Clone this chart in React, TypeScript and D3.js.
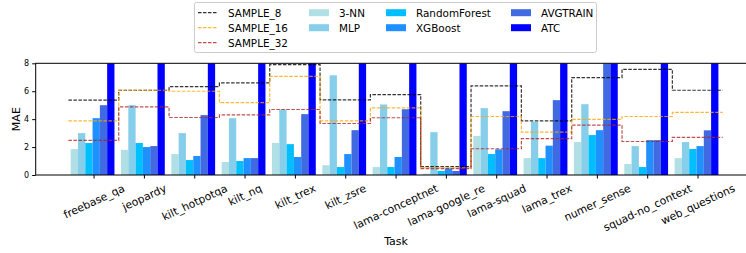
import { useEffect, useRef } from "react";
import * as d3 from "d3";

const categories = [
  "freebase_qa",
  "jeopardy",
  "kilt_hotpotqa",
  "kilt_nq",
  "kilt_trex",
  "kilt_zsre",
  "lama-conceptnet",
  "lama-google_re",
  "lama-squad",
  "lama_trex",
  "numer_sense",
  "squad-no_context",
  "web_questions",
];

const barSeries = ["3-NN", "MLP", "RandomForest", "XGBoost", "AVGTRAIN", "ATC"];
const barColors = ["#b0e0e6", "#87ceeb", "#00bfff", "#1e90ff", "#4169e1", "#0000ff"];

const knn3 = [1.85, 1.8, 1.5, 0.93, 2.3, 0.7, 0.57, 0.1, 2.8, 1.21, 2.36, 0.79, 1.21];
const mlp = [3.0, 5.0, 3.0, 4.07, 4.69, 7.14, 5.05, 3.07, 4.79, 3.81, 5.07, 2.07, 2.36];
const randomForest = [2.29, 2.29, 1.07, 1.0, 2.21, 0.57, 0.57, 0.29, 1.5, 1.21, 2.86, 0.57, 1.86];
const xgboost = [4.07, 2.0, 1.36, 1.21, 1.29, 1.5, 1.29, 0.47, 1.84, 2.1, 3.21, 2.5, 2.07];
const avgtrain = [5.0, 2.07, 4.29, 1.21, 4.36, 3.21, 4.71, 0.29, 4.57, 5.36, 8.0, 2.5, 3.2];
// ATC runs past the top of the axis everywhere; shown at the 8.0 limit
const atc = [8, 8, 8, 8, 8, 8, 8, 8, 8, 8, 8, 8, 8];

const sample8 = [5.36, 6.07, 6.33, 6.6, 7.9, 5.38, 5.76, 0.6, 6.38, 3.88, 6.98, 7.57, 6.07];
const sample16 = [3.88, 6.07, 6.0, 5.19, 7.07, 3.88, 4.81, 0.52, 4.19, 3.07, 3.98, 4.19, 4.48];
const sample32 = [2.48, 4.88, 4.12, 4.31, 4.69, 3.69, 4.1, 0.45, 1.88, 2.6, 3.57, 2.4, 2.69];

const lineSeries = ["SAMPLE_8", "SAMPLE_16", "SAMPLE_32"];
const lineColors = ["#000000", "#ffa500", "#b22222"];

const yTicks = [0, 2, 4, 6, 8];

function App() {
  const svgRef = useRef<SVGSVGElement>(null);

  useEffect(() => {
    document.body.style.margin = "0";
    const svgElement = svgRef.current;
    if (!svgElement) return;

    const font = "DejaVu Sans, sans-serif";
    const svg = d3.select(svgElement);
    svg.selectAll("*").remove();

    const plot = { left: 35.7, right: 755.4, top: 63.3, bottom: 175 };

    const x = d3.scaleLinear().domain([-1.15, 13.15]).range([plot.left, plot.right]);
    const y = d3.scaleLinear().domain([0, 8]).range([plot.bottom, plot.top]);
    const inner = d3.scaleBand().domain(barSeries).range([-0.455, 0.415]).padding(0);

    svg
      .append("defs")
      .append("clipPath")
      .attr("id", "plot-clip")
      .append("rect")
      .attr("x", plot.left)
      .attr("y", plot.top)
      .attr("width", plot.right - plot.left)
      .attr("height", plot.bottom - plot.top);

    const barData = [knn3, mlp, randomForest, xgboost, avgtrain, atc];
    const g = svg.append("g").attr("clip-path", "url(#plot-clip)");

    // bars
    barSeries.forEach((name, j) => {
      g.append("g")
        .selectAll("rect")
        .data(barData[j])
        .enter()
        .append("rect")
        .attr("x", (_, i) => x(i + (inner(name) || 0)))
        .attr("width", x(inner.bandwidth()) - x(0))
        .attr("y", (d) => y(d))
        .attr("height", (d) => y(0) - y(d))
        .attr("fill", barColors[j]);
    });

    // step lines, one flat segment per task
    const lineData = [sample8, sample16, sample32];
    const line = d3
      .line<[number, number]>()
      .x((d) => x(d[0]))
      .y((d) => y(d[1]))
      .curve(d3.curveStepAfter);

    lineData.forEach((vals, k) => {
      const pts: [number, number][] = vals.map((v, i) => [i - 0.5, v]);
      pts.push([vals.length - 0.5, vals[vals.length - 1]]);
      g.append("path")
        .datum(pts)
        .attr("d", line)
        .attr("fill", "none")
        .attr("stroke", lineColors[k])
        .attr("stroke-width", 1.2)
        .attr("stroke-opacity", 0.8)
        .attr("stroke-dasharray", "3.5,1.5");
    });

    // frame
    svg
      .append("rect")
      .attr("x", plot.left)
      .attr("y", plot.top)
      .attr("width", plot.right - plot.left)
      .attr("height", plot.bottom - plot.top)
      .attr("fill", "none")
      .attr("stroke", "#000")
      .attr("stroke-width", 1);

    // y axis
    const yAxis = svg
      .append("g")
      .attr("transform", `translate(${plot.left},0)`)
      .call(d3.axisLeft(y).tickValues(yTicks).tickSize(3.5).tickSizeOuter(0).tickPadding(3));
    yAxis.select(".domain").remove();
    yAxis.selectAll("text").style("font-family", font).style("font-size", "8px").attr("fill", "#000");

    // x axis
    const xAxis = svg
      .append("g")
      .attr("transform", `translate(0,${plot.bottom})`)
      .call(
        d3
          .axisBottom(x)
          .tickValues(d3.range(categories.length))
          .tickFormat((i) => categories[i as number])
          .tickSize(3.5)
          .tickSizeOuter(0)
      );
    xAxis.select(".domain").remove();

    const tickFont = 10.8;
    const angle = 25;
    const rad = (angle * Math.PI) / 180;
    xAxis
      .selectAll<SVGTextElement, number>("text")
      .style("font-family", font)
      .style("font-size", `${tickFont}px`)
      .attr("fill", "#000")
      .attr("text-anchor", "middle")
      .attr("dominant-baseline", "central")
      .attr("dy", null)
      .attr("x", 0)
      .attr("y", 0)
      .each(function () {
        const len = this.getComputedTextLength();
        const boxH = len * Math.sin(rad) + tickFont * 1.17 * Math.cos(rad);
        d3.select(this).attr("transform", `translate(0,${7 + boxH / 2}) rotate(${-angle})`);
      });

    // axis labels
    svg
      .append("text")
      .attr("transform", `translate(16,${(plot.top + plot.bottom) / 2}) rotate(-90)`)
      .attr("text-anchor", "middle")
      .attr("dominant-baseline", "central")
      .style("font-family", font)
      .style("font-size", "11px")
      .text("MAE");

    svg
      .append("text")
      .attr("x", 396)
      .attr("y", 241)
      .attr("text-anchor", "middle")
      .attr("dominant-baseline", "central")
      .style("font-family", font)
      .style("font-size", "11px")
      .text("Task");

    // legend
    const legend = svg.append("g");
    legend
      .append("rect")
      .attr("x", 194.5)
      .attr("y", 2.5)
      .attr("width", 402)
      .attr("height", 50)
      .attr("rx", 2)
      .attr("fill", "#fff")
      .attr("fill-opacity", 0.8)
      .attr("stroke", "#cccccc");

    const colX = [198, 309, 386, 511];
    const rowY = [12.7, 27.7, 42.7];
    const items = [
      ...lineSeries.map((n, k) => ({ name: n, color: lineColors[k], kind: "line" })),
      ...barSeries.map((n, k) => ({ name: n, color: barColors[k], kind: "patch" })),
    ];
    const perCol = [3, 2, 2, 2];
    let idx = 0;
    perCol.forEach((count, c) => {
      for (let r = 0; r < count; r++) {
        const it = items[idx++];
        const lx = colX[c];
        const ly = rowY[r];
        if (it.kind === "line") {
          legend
            .append("line")
            .attr("x1", lx)
            .attr("x2", lx + 20)
            .attr("y1", ly)
            .attr("y2", ly)
            .attr("stroke", it.color)
            .attr("stroke-width", 1.2)
            .attr("stroke-opacity", 0.8)
            .attr("stroke-dasharray", "3.5,1.5");
        } else {
          legend
            .append("rect")
            .attr("x", lx)
            .attr("y", ly - 3.5)
            .attr("width", 20)
            .attr("height", 7)
            .attr("fill", it.color);
        }
        legend
          .append("text")
          .attr("x", lx + 30)
          .attr("y", ly)
          .attr("dominant-baseline", "central")
          .style("font-family", font)
          .style("font-size", "10.4px")
          .text(it.name);
      }
    });

    return () => {
      d3.select(svgElement).selectAll("*").remove();
    };
  }, []);

  return <svg ref={svgRef} width={746} height={253} style={{ display: "block" }}></svg>;
}

export default App;
